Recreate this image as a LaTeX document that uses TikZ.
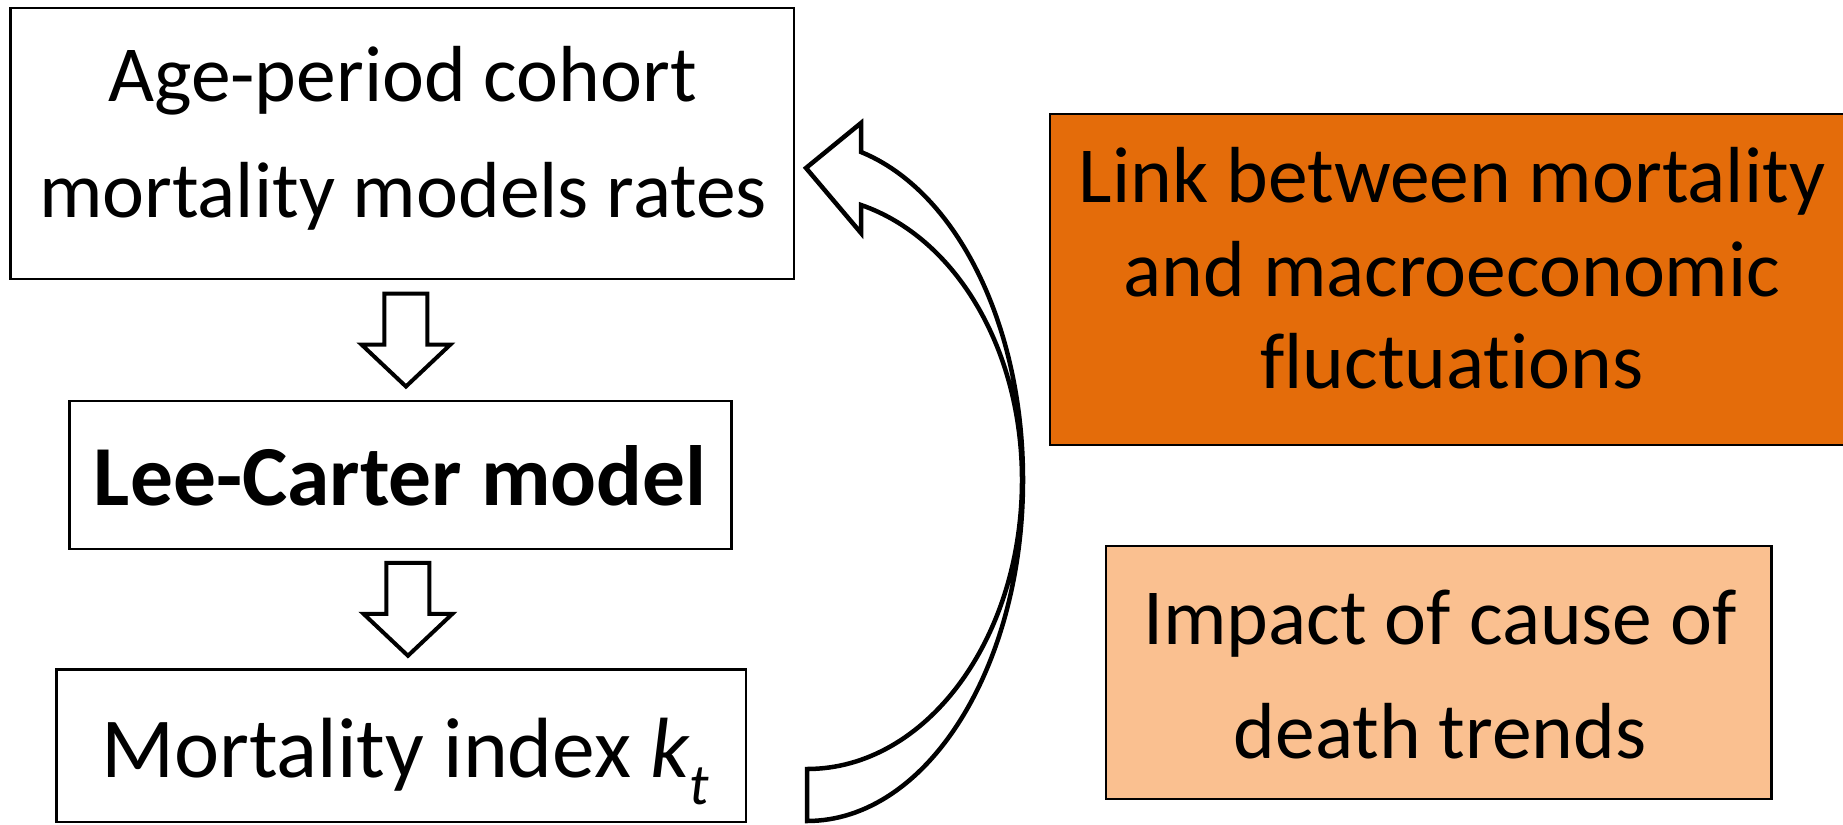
\documentclass[tikz,border=0pt]{standalone}
\usepackage{fontspec}
\setmainfont{Carlito}[Ligatures={NoCommon}]
\usetikzlibrary{calc}
\definecolor{orgdark}{HTML}{E46C0A}
\definecolor{orglight}{HTML}{FAC090}
\tikzset{
  box/.style={draw=black, line width=2.5pt, fill=white, inner sep=0pt},
  txt/.style={inner sep=0pt, anchor=base, font=\fontsize{79.5}{95}\selectfont},
  barrow/.style={draw=black, line width=4pt, fill=white, line join=miter},
  downarr/.pic={\draw[barrow] (-21.5,-46.5) -- (21.5,-46.5) -- (21.5,4.5) -- (44.5,4.5) -- (0,46.5) -- (-44.5,4.5) -- (-21.5,4.5) -- cycle;}
}
\begin{document}
\begin{tikzpicture}[x=1pt,y=-1pt]
\useasboundingbox (0,0) rectangle (1843,824);
\fill[white] (0,0) rectangle (1843,824);

% left column boxes
\node[box, minimum width=783.5pt, minimum height=271pt] (b1) at (402.25,143.5) {};
\node[box, minimum width=662.1pt, minimum height=148pt] (b2) at (400.65,475) {};
\node[box, minimum width=689.5pt, minimum height=152.5pt] (b3) at (401.25,745.75) {};

\node[txt] (t1a) at (402.5,102) {Age-period cohort};
\node[txt] (t1b) at (403,217) {mortality models rates};
\node[txt, font=\fontsize{85.5}{100}\selectfont\bfseries] (t2) at (400.5,505) {Lee-Carter model};
\node[txt, font=\fontsize{85.5}{100}\selectfont] (t3) at (405,777) {Mortality index {\itshape k\raisebox{-27pt}{\fontsize{58}{58}\selectfont t}}};

% right boxes
\node[box, fill=orgdark, minimum width=804pt, minimum height=331pt] (r1) at (1452,279.5) {};
\node[txt] (r1a) at (1452,202) {Link between mortality};
\node[txt] (r1b) at (1452,296) {and macroeconomic};
\node[txt] (r1c) at (1452,388) {fluctuations};

\node[box, fill=orglight, minimum width=665.5pt, minimum height=253pt] (r2) at (1438.75,672.5) {};
\node[txt] (r2a) at (1440,644) {Impact of cause of};
\node[txt] (r2b) at (1440,758) {death trends};

% block arrows
\coordinate (m1) at ($(b1.south)!0.5!(b2.north)$);
\coordinate (m2) at ($(b2.south)!0.5!(b3.north)$);
\pic at ([xshift=4.5pt]m1) {downarr};
\pic at ([xshift=7pt]m2) {downarr};

% curved arrow from b3 back to b1
\coordinate (tt) at (807,769);
\coordinate (tb) at (807,821);
\coordinate (ir) at (1022,480);
\coordinate (orr) at (1023,480);
\coordinate (hi) at (861,205);
\coordinate (hb) at (861,233);
\coordinate (tip) at (806,168);
\coordinate (ht) at (861,123);
\coordinate (ho) at (861,152);
\draw[line width=4.5pt, fill=white, line join=miter]
  (tt) .. controls (925.7,769) and (1022,639.6) .. (ir)
       .. controls (1022,349.2) and (955.9,237.7) .. (hi)
  -- (hb) -- (tip) -- (ht) -- (ho)
       .. controls (956.3,190.9) and (1023,324.5) .. (orr)
       .. controls (1023,668.3) and (926.3,821) .. (tb)
  -- cycle;
\end{tikzpicture}
\end{document}
